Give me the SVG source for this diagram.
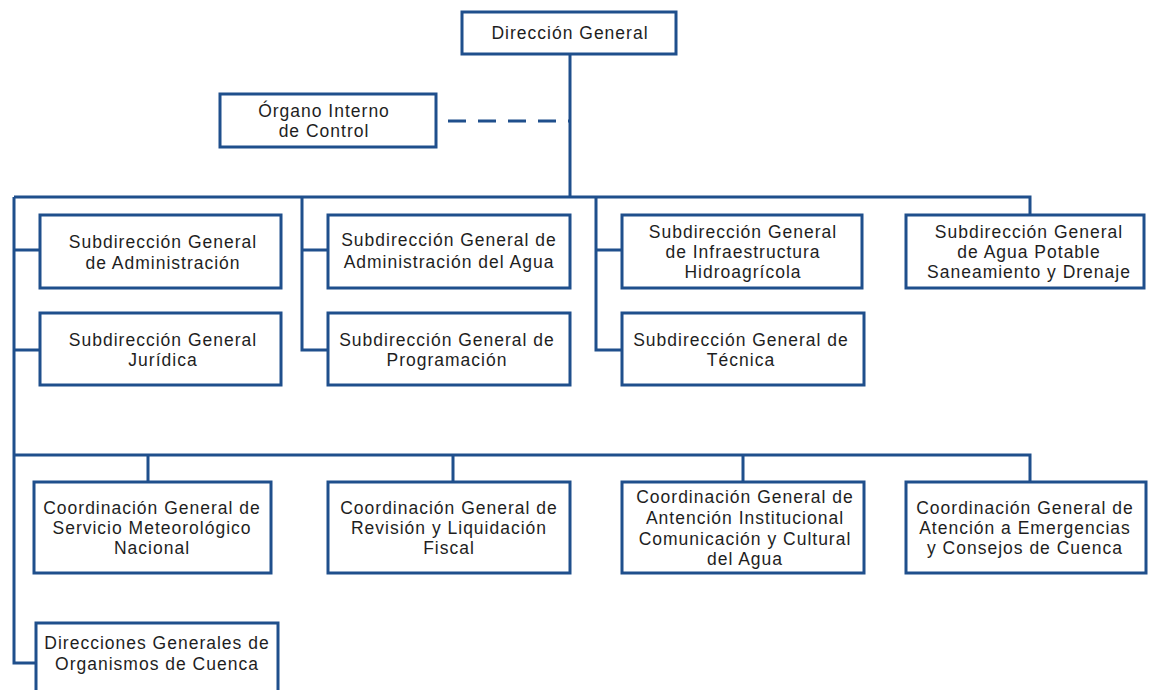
<svg xmlns="http://www.w3.org/2000/svg" width="1156" height="690" viewBox="0 0 1156 690">
<style>
.box{fill:#fff;stroke:#1f4f8c;stroke-width:3}
.ln{fill:none;stroke:#1f4f8c;stroke-width:3}
.t{font-family:"Liberation Sans",Arial,sans-serif;font-size:17.5px;fill:#1e1e1e;text-anchor:middle;dominant-baseline:central;letter-spacing:1px}
</style>
<rect width="1156" height="690" fill="#fff"/>
<g id="connectors">
<path class="ln" d="M570 54V197"/>
<path class="ln" d="M448 121H570" stroke-dasharray="18 12"/>
<path class="ln" d="M14 197H1030V215"/>
<path class="ln" d="M14 197V663H36"/>
<path class="ln" d="M14 250H40M14 350H40"/>
<path class="ln" d="M302 197V350H328M302 250H328"/>
<path class="ln" d="M596 197V350H622M596 250H622"/>
<path class="ln" d="M14 455H1030V482"/>
<path class="ln" d="M148 455V482M453 455V482M743 455V482"/>
</g>
<g id="direccion-general"><rect class="box" x="462" y="12" width="214" height="42"/><text class="t" x="570" y="33">Dirección General</text></g>
<g id="organo-interno"><rect class="box" x="220" y="94" width="216" height="53"/><text class="t" x="324" y="111">Órgano Interno</text><text class="t" x="324" y="131">de Control</text></g>
<g id="sg-administracion"><rect class="box" x="40" y="215" width="241" height="73"/><text class="t" x="163" y="242">Subdirección General</text><text class="t" x="163" y="263">de Administración</text></g>
<g id="sg-juridica"><rect class="box" x="40" y="313" width="241" height="72"/><text class="t" x="163" y="340">Subdirección General</text><text class="t" x="163" y="360">Jurídica</text></g>
<g id="sg-admin-agua"><rect class="box" x="328" y="215" width="242" height="73"/><text class="t" x="449" y="240">Subdirección General de</text><text class="t" x="449" y="262">Administración del Agua</text></g>
<g id="sg-programacion"><rect class="box" x="328" y="313" width="242" height="72"/><text class="t" x="447" y="340">Subdirección General de</text><text class="t" x="447" y="360">Programación</text></g>
<g id="sg-infraestructura"><rect class="box" x="622" y="215" width="240" height="73"/><text class="t" x="743" y="232">Subdirección General</text><text class="t" x="743" y="252">de Infraestructura</text><text class="t" x="743" y="272">Hidroagrícola</text></g>
<g id="sg-tecnica"><rect class="box" x="622" y="313" width="242" height="72"/><text class="t" x="741" y="340">Subdirección General de</text><text class="t" x="741" y="360">Técnica</text></g>
<g id="sg-agua-potable"><rect class="box" x="906" y="215" width="238" height="73"/><text class="t" x="1029" y="232">Subdirección General</text><text class="t" x="1029" y="252">de Agua Potable</text><text class="t" x="1029" y="272">Saneamiento y Drenaje</text></g>
<g id="cg-meteorologico"><rect class="box" x="34" y="482" width="237" height="91"/><text class="t" x="152" y="508">Coordinación General de</text><text class="t" x="152" y="528">Servicio Meteorológico</text><text class="t" x="152" y="548">Nacional</text></g>
<g id="cg-revision"><rect class="box" x="328" y="482" width="242" height="91"/><text class="t" x="449" y="508">Coordinación General de</text><text class="t" x="449" y="528">Revisión y Liquidación</text><text class="t" x="449" y="548">Fiscal</text></g>
<g id="cg-atencion-institucional"><rect class="box" x="622" y="482" width="242" height="91"/><text class="t" x="745" y="497">Coordinación General de</text><text class="t" x="745" y="518">Antención Institucional</text><text class="t" x="745" y="539">Comunicación y Cultural</text><text class="t" x="745" y="559">del Agua</text></g>
<g id="cg-emergencias"><rect class="box" x="906" y="482" width="240" height="91"/><text class="t" x="1025" y="508">Coordinación General de</text><text class="t" x="1025" y="528">Atención a Emergencias</text><text class="t" x="1025" y="548">y Consejos de Cuenca</text></g>
<g id="dg-organismos-cuenca"><rect class="box" x="36" y="623" width="242" height="70"/><text class="t" x="157" y="643">Direcciones Generales de</text><text class="t" x="157" y="664">Organismos de Cuenca</text></g>
</svg>
